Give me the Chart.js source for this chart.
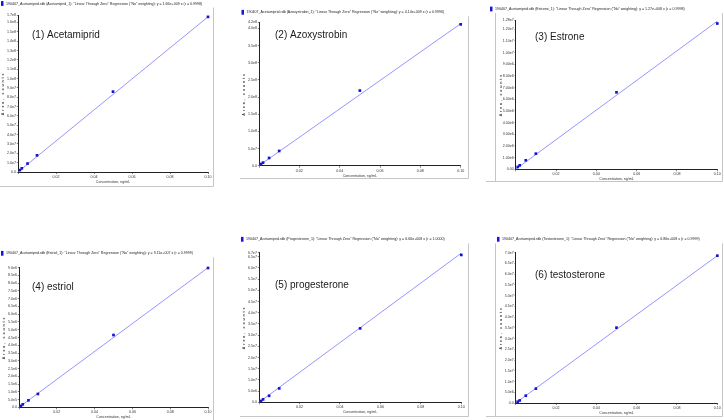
<!DOCTYPE html>
<html>
<head>
<meta charset="utf-8">
<script src="https://cdn.jsdelivr.net/npm/chart.js@4.4.1/dist/chart.umd.min.js"></script>
<style>
body { margin: 0; background: #fff; width: 724px; height: 420px; overflow: hidden; position: relative; }
canvas { position: absolute; }
</style>
</head>
<body>
<script>
// concentrations, ng/mL
var conc = [0.001, 0.002, 0.005, 0.01, 0.05, 0.1];

var compounds = ['Acetamiprid', 'Azoxystrobin', 'Estrone', 'Estriol', 'Progesterone', 'Testosterone'];
var panelLabels = ['(1) Acetamiprid', '(2) Azoxystrobin', '(3) Estrone', '(4) estriol', '(5) progesterone', '(6) testosterone'];
var slopeText = ['1.66e+009', '4.14e+009', '1.27e+008', '9.11e+007', '6.66e+008', '6.86e+008'];
var rText = ['0.9998', '0.9996', '0.9998', '0.9999', '1.0000', '0.9999'];

// area counts per compound
var acetamiprid = [2.0e6, 3.9e6, 9.0e6, 1.78e7, 8.6e7, 1.66e8];
var azoxystrobin = [5.0e6, 9.0e6, 2.25e7, 4.3e7, 2.19e8, 4.12e8];
var estrone = [2.0e5, 3.4e5, 7.7e5, 1.34e6, 6.6e6, 1.25e7];
var estriol = [9.0e4, 1.9e5, 4.5e5, 8.6e5, 4.66e6, 8.98e6];
var progesterone = [6.0e5, 1.3e6, 2.9e6, 6.2e6, 3.3e7, 6.58e7];
var testosterone = [6.0e5, 1.2e6, 3.4e6, 6.7e6, 3.51e7, 6.86e7];
var areas = [acetamiprid, azoxystrobin, estrone, estriol, progesterone, testosterone];

// regression line value at 0.10 ng/mL
var fitTop = [1.66e8, 4.14e8, 1.27e7, 9.0e6, 6.66e7, 6.86e7];

// y axis
var yMax = [1.68e8, 4.18e8, 1.28e7, 9.0e6, 6.68e7, 7.0e7];
var yStep = [1e7, 5e7, 1e6, 5e5, 5e6, 5e6];
var yDigits = [1, 1, 2, 1, 1, 1];
var xStep = 0.02;

// panel placement on the page
var layout = [
    {x: 0, y: 0, w: 214, h: 187, L: 18, T: 15, R: 208, B: 172, headY: 3.5, iconX: 1, labelX: 32, labelY: 35, leftLine: null},
    {x: 240, y: 8, w: 229, h: 171, L: 259, T: 22.3, R: 460.7, B: 165.7, headY: 12.3, iconX: 241.5, labelX: 275, labelY: 35, leftLine: null},
    {x: 486, y: 4, w: 237, h: 178, L: 515.7, T: 20, R: 717.3, B: 169.3, headY: 9, iconX: 490, labelX: 535, labelY: 37, leftLine: 495},
    {x: 0, y: 249, w: 214, h: 172, L: 19, T: 267.7, R: 208, B: 407.3, headY: 253.3, iconX: 1, labelX: 32, labelY: 287, leftLine: null},
    {x: 240, y: 235, w: 229, h: 182, L: 259, T: 252.7, R: 461.3, B: 402.3, headY: 239.3, iconX: 241, labelX: 275, labelY: 285, leftLine: null},
    {x: 486, y: 235, w: 237, h: 182, L: 515.7, T: 252.7, R: 717.3, B: 403, headY: 239.3, iconX: 497, labelX: 535, labelY: 275, leftLine: 495}
];

var FONT = '"Liberation Sans", Arial, sans-serif';

var panelDeco = {
    id: 'panelDeco',
    afterDraw: function(chart) {
        var o = chart.options.plugins.panelDeco;
        var ctx = chart.ctx;
        var a = chart.chartArea;
        ctx.save();
        //frame
        ctx.strokeStyle = '#c6c6c6';
        ctx.lineWidth = 1;
        ctx.beginPath();
        ctx.moveTo(chart.width - 0.5, o.headY + 4);
        ctx.lineTo(chart.width - 0.5, chart.height - 0.5);
        ctx.lineTo(0, chart.height - 0.5);
        if (o.leftLine !== null) {
            ctx.moveTo(o.leftLine + 0.5, o.headY + 4);
            ctx.lineTo(o.leftLine + 0.5, chart.height - 0.5);
        }
        ctx.stroke();
        //header
        ctx.fillStyle = '#1515e0';
        ctx.fillRect(o.iconX, o.headY - 2.4, 2.5, 4.8);
        ctx.fillStyle = '#222';
        ctx.textBaseline = 'middle';
        ctx.font = '3.6px ' + FONT;
        ctx.fillText(o.header, o.iconX + 5, o.headY);
        //compound name
        ctx.font = '10px ' + FONT;
        ctx.fillStyle = '#1a1a1a';
        ctx.fillText(o.label, o.labelX, o.labelY);
        //y title, spaced out like the original software
        ctx.translate(a.left - 15, (a.top + a.bottom) / 2);
        ctx.rotate(-Math.PI / 2);
        ctx.textAlign = 'center';
        ctx.letterSpacing = '1.8px';
        ctx.font = 'bold 3.6px ' + FONT;
        ctx.fillStyle = '#333';
        ctx.fillText('Area, counts', 0, 0);
        ctx.restore();
    }
};

function fmtY(v, d) {
    if (v === 0) {
        return d === 2 ? '0.00' : '0.0';
    }
    return v.toExponential(d).replace('e+', 'e');
}

function createGraph(i) {
    var p = layout[i];
    var canvas = document.createElement('canvas');
    canvas.width = p.w;
    canvas.height = p.h;
    canvas.style.left = p.x + 'px';
    canvas.style.top = p.y + 'px';
    canvas.style.width = p.w + 'px';
    canvas.style.height = p.h + 'px';
    document.body.appendChild(canvas);

    var points = conc.map(function(c, k) { return {x: c, y: areas[i][k]}; });
    var header = '190407_Acetamiprid.rdb (' + compounds[i] + '_1): "Linear Through Zero" Regression ("No" weighting): y = ' +
        slopeText[i] + ' x (r = ' + rText[i] + ')';

    var tickFont = {family: FONT, size: 3.6};

    var config = {
        type: 'scatter',
        data: {
            datasets: [{
                label: compounds[i],
                data: points,
                pointStyle: 'rect',
                pointRadius: 1.9,
                backgroundColor: '#1414d0',
                borderColor: '#1414d0',
                borderWidth: 0,
                clip: false
            }, {
                label: 'fit',
                type: 'line',
                data: [{x: 0, y: 0}, {x: conc[conc.length - 1], y: fitTop[i]}],
                borderColor: '#7a7aff',
                borderWidth: 0.8,
                pointRadius: 0,
                clip: false
            }]
        },
        plugins: [panelDeco],
        options: {
            responsive: false,
            animation: false,
            events: [],
            layout: {
                autoPadding: false,
                padding: {
                    left: p.L - p.x - 14,
                    top: p.T - p.y,
                    right: p.x + p.w - p.R,
                    bottom: p.y + p.h - p.B - 12
                }
            },
            plugins: {
                legend: {display: false},
                tooltip: {enabled: false},
                panelDeco: {
                    header: header,
                    label: panelLabels[i],
                    headY: p.headY - p.y,
                    iconX: p.iconX - p.x,
                    labelX: p.labelX - p.x,
                    labelY: p.labelY - p.y,
                    leftLine: p.leftLine === null ? null : p.leftLine - p.x
                }
            },
            scales: {
                x: {
                    type: 'linear',
                    min: 0,
                    max: 0.1,
                    afterFit: function(s) { s.height = 12; },
                    ticks: {
                        stepSize: xStep,
                        autoSkip: false,
                        maxRotation: 0,
                        padding: 1,
                        color: '#333',
                        font: tickFont,
                        callback: function(v) { return v === 0 ? '' : v.toFixed(2); }
                    },
                    grid: {drawOnChartArea: false, tickLength: 2, color: '#555', lineWidth: 0.7},
                    border: {color: '#222', width: 1},
                    title: {display: true, text: 'Concentration, ng/mL', color: '#333', font: tickFont, padding: 0}
                },
                y: {
                    type: 'linear',
                    min: 0,
                    max: yMax[i],
                    afterFit: function(s) { s.width = 14; },
                    afterBuildTicks: function(s) {
                        var t = [];
                        for (var k = 0; k * yStep[i] < yMax[i] - yStep[i] * 0.05; k++) {
                            t.push({value: k * yStep[i]});
                        }
                        t.push({value: yMax[i]});
                        s.ticks = t;
                    },
                    ticks: {
                        autoSkip: false,
                        padding: 0.8,
                        color: '#333',
                        font: tickFont,
                        callback: function(v) { return fmtY(v, yDigits[i]); }
                    },
                    grid: {drawOnChartArea: false, tickLength: 1.2, color: '#555', lineWidth: 0.7},
                    border: {color: '#222', width: 1}
                }
            }
        }
    };

    new Chart(canvas, config);
}

for (var i = 0; i < layout.length; i++) {
    createGraph(i);
}
</script>
</body>
</html>
